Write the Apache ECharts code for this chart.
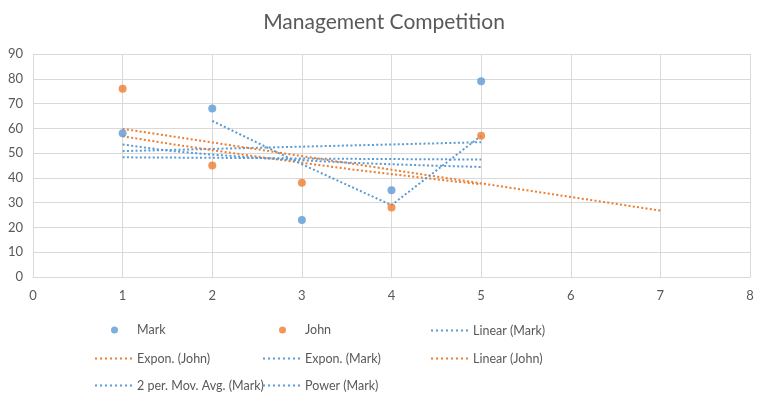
<!DOCTYPE html>
<html>
<head>
<meta charset="utf-8">
<script src="https://cdn.jsdelivr.net/npm/echarts@6/dist/echarts.min.js"></script>
<style>html,body{margin:0;padding:0;background:#fff}#c{width:768px;height:402px}</style>
</head>
<body>
<div id="c"></div>
<script>
// Raw data
const xValues = [1, 2, 3, 4, 5];
const markValues = [58, 68, 23, 35, 79];
const johnValues = [76, 45, 38, 28, 57];

// Trendline values
const linearMarkX = [1, 5];
const linearMarkY = [50.8, 54.4];
const linearJohnX = [1, 7];
const linearJohnY = [59.8, 26.8];
const curveX = [1, 1.5, 2, 2.5, 3, 3.5, 4, 4.5, 5];
const exponJohnY = [56.8, 53.9, 51.2, 48.6, 46.1, 43.7, 41.5, 39.4, 37.4];
const exponMarkY = [48.3, 48.2, 48.1, 48.0, 47.8, 47.7, 47.6, 47.5, 47.4];
const powerMarkY = [53.5, 51.0, 49.4, 48.1, 47.1, 46.2, 45.5, 44.9, 44.4];
const movAvgX = [2, 3, 4, 5];
const movAvgMarkY = [63, 45.5, 29, 57];

const xTicks = [0, 1, 2, 3, 4, 5, 6, 7, 8];
const yTicks = [0, 10, 20, 30, 40, 50, 60, 70, 80, 90];

const BLUE = '#5B9BD5';
const ORANGE = '#ED7D31';
const FONT = 'Lato';

function pairs(xs, ys) { return xs.map((x, i) => [x, ys[i]]); }

function trend(name, xs, ys, color) {
  return {
    name: name, type: 'line', data: pairs(xs, ys), symbol: 'none', smooth: false,
    lineStyle: { color: color, width: 2, type: [2, 2.3], cap: 'butt' },
    itemStyle: { color: color }, z: 2, silent: true
  };
}

const series = [
  { name: 'Mark', type: 'scatter', data: pairs(xValues, markValues), symbolSize: 8, itemStyle: { color: BLUE }, z: 5 },
  { name: 'John', type: 'scatter', data: pairs(xValues, johnValues), symbolSize: 8, itemStyle: { color: ORANGE }, z: 5 },
  trend('Linear (Mark)', linearMarkX, linearMarkY, BLUE),
  trend('Expon. (John)', curveX, exponJohnY, ORANGE),
  trend('Expon. (Mark)', curveX, exponMarkY, BLUE),
  trend('Linear (John)', linearJohnX, linearJohnY, ORANGE),
  trend('2 per. Mov. Avg. (Mark)', movAvgX, movAvgMarkY, BLUE),
  trend('Power (Mark)', curveX, powerMarkY, BLUE)
];

// dotted legend icon: 8 small squares
let dotPath = 'path://';
for (let k = 0; k < 8; k++) dotPath += 'M' + (k * 5) + ',0h2v2h-2z';

const colLeft = [95, 263, 431];
const rowCenter = [328, 356, 383];
const legends = series.map((s, i) => {
  const col = i % 3, row = Math.floor(i / 3);
  const isScatter = s.type === 'scatter';
  if (isScatter) {
    return {
      data: [s.name], left: colLeft[col] + 16, top: rowCenter[row] - 4.5, padding: 0,
      itemWidth: 7, itemHeight: 7, itemGap: 0, icon: 'circle',
      textStyle: { color: '#595959', fontSize: 12.5, fontFamily: FONT, padding: [0, 0, 0, 14] },
      selectedMode: false
    };
  }
  return {
    data: [s.name], left: colLeft[col], top: rowCenter[row] - 4, padding: 0,
    itemWidth: 37, itemHeight: 2, itemGap: 0, icon: dotPath,
    itemStyle: { borderWidth: 0 }, lineStyle: { width: 0 },
    textStyle: { color: '#595959', fontSize: 12.5, fontFamily: FONT },
    selectedMode: false
  };
});

const chart = echarts.init(document.getElementById('c'), null, { renderer: 'canvas' });
chart.setOption({
  animation: false,
  backgroundColor: '#fff',
  title: {
    text: 'Management Competition', left: 'center', top: 7,
    textStyle: { color: '#595959', fontSize: 21, fontWeight: 'normal', fontFamily: FONT }
  },
  legend: legends,
  grid: { left: 33, right: 18, top: 54, bottom: 125, containLabel: false },
  xAxis: {
    type: 'value', min: xTicks[0], max: xTicks[xTicks.length - 1], interval: 1,
    axisLine: { show: true, lineStyle: { color: '#d9d9d9', width: 1 } },
    axisTick: { show: false },
    splitLine: { show: true, lineStyle: { color: '#d9d9d9', width: 1 } },
    axisLabel: { color: '#595959', fontSize: 13, fontFamily: FONT, margin: 12 }
  },
  yAxis: {
    type: 'value', min: yTicks[0], max: yTicks[yTicks.length - 1], interval: 10,
    axisLine: { show: false },
    axisTick: { show: false },
    splitLine: { show: true, lineStyle: { color: '#d9d9d9', width: 1 } },
    axisLabel: { color: '#595959', fontSize: 13, fontFamily: FONT, margin: 10 }
  },
  series: series
});
</script>
</body>
</html>
